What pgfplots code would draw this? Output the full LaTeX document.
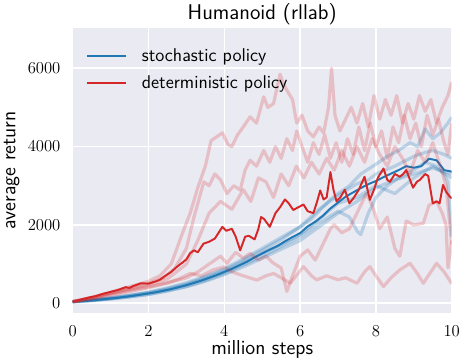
\documentclass[border=0pt]{standalone}
\usepackage{pgfplots}
\pgfplotsset{compat=1.18}
\definecolor{bgc}{HTML}{EAEAF2}
\definecolor{tblue}{HTML}{1F77B4}
\definecolor{tred}{HTML}{D62728}
\begin{document}
\begin{tikzpicture}
\useasboundingbox (0,0) rectangle (332.4pt,259pt);
\begin{axis}[
  at={(52.3pt,33.8pt)}, anchor=south west,
  width=272.7pt, height=205.1pt, scale only axis,
  xmin=0, xmax=10, ymin=-250, ymax=7030,
  axis background/.style={fill=bgc},
  axis line style={draw=none},
  major tick length=0pt,
  grid=major, grid style={white, line width=1.1pt},
  xtick={0,2,4,6,8,10}, ytick={0,2000,4000,6000},
  scaled y ticks=false,
  yticklabel style={/pgf/number format/1000 sep={}, xshift=-5.3pt},
  xticklabel style={yshift=-5.7pt},
  tick label style={font=\fontsize{13.2}{15}\selectfont},
  title={Humanoid (rllab)},
  title style={font=\sffamily\fontsize{15.3}{18}\selectfont, yshift=-7.2pt},
  xlabel={million steps}, ylabel={average return},
  xlabel style={font=\sffamily\fontsize{14.5}{17}\selectfont, at={(axis description cs:0.5,0)}, anchor=base, yshift=-30.2pt},
  ylabel style={font=\sffamily\fontsize{14.5}{17}\selectfont, at={(axis description cs:-0.151,0.5)}, anchor=base},
  legend style={draw=none, fill=none, at={(axis description cs:0,1)}, anchor=north west,
    xshift=6.7pt, yshift=-10.6pt, font=\sffamily\fontsize{13.3}{16}\selectfont, row sep=5pt, column sep=8.5pt},
  legend cell align=left,
  legend image code/.code={\draw[#1] (0pt,0pt) -- (28pt,0pt);},
  every axis plot/.append style={line join=round},
]
% stochastic seeds
\addplot[forget plot, tblue, opacity=0.25, line width=2.3pt] coordinates {
(0,40)(0.5,80)(1,130)(1.5,195)(2,270)(2.5,370)(3,490)(3.5,660)(4,850)(4.5,1080)(5,1350)(5.5,1620)(6,1950)(6.3,2150)(6.5,2350)(6.8,2650)(7,2800)(7.3,3000)(7.6,3300)(8,3550)(8.3,3750)(8.6,3900)(8.9,4100)(9.1,4000)(9.3,4450)(9.5,4200)(9.7,4350)(9.9,4600)(10,4750)};
\addplot[forget plot, tblue, opacity=0.25, line width=2.3pt] coordinates {
(0,40)(0.5,70)(1,110)(1.5,165)(2,230)(2.5,320)(3,430)(3.5,580)(4,760)(4.5,980)(5,1200)(5.5,1450)(6,1700)(6.5,2050)(7,2350)(7.3,2200)(7.5,1850)(7.6,1750)(7.8,2300)(8,2700)(8.3,3000)(8.6,3200)(9,3400)(9.3,3600)(9.6,3500)(9.8,3300)(9.9,3100)(10,1700)};
\addplot[forget plot, tblue, opacity=0.25, line width=2.3pt] coordinates {
(0,40)(0.5,85)(1,140)(1.5,205)(2,280)(2.5,390)(3,520)(3.5,690)(4,880)(4.5,1130)(5,1400)(5.5,1680)(6,1950)(6.5,2400)(7,2750)(7.5,3050)(7.8,3150)(8,3300)(8.5,3500)(9,3750)(9.3,3850)(9.5,3900)(9.8,3800)(10,3700)};
\addplot[forget plot, tblue, opacity=0.25, line width=2.3pt] coordinates {
(0,30)(0.5,65)(1,110)(1.5,160)(2,220)(2.5,310)(3,420)(3.5,560)(4,730)(4.5,930)(5,1150)(5.5,1380)(6,1600)(6.5,1950)(7,2300)(7.5,2600)(8,2950)(8.5,3150)(9,3300)(9.5,3450)(10,3300)};
\addplot[forget plot, tblue, opacity=0.25, line width=2.3pt] coordinates {
(0,40)(0.5,75)(1,120)(1.5,185)(2,260)(2.5,350)(3,470)(3.5,620)(4,800)(4.5,1030)(5,1280)(5.5,1500)(6,1750)(6.5,2150)(7,2550)(7.5,2700)(8,3000)(8.5,2800)(9,3200)(9.5,3500)(10,3200)};
% stochastic mean
\addplot[tblue, line width=1.4pt] coordinates {
(0,40)(0.2,50)(0.4,62)(0.6,80)(0.8,100)(1,120)(1.2,140)(1.4,165)(1.6,190)(1.8,220)(2,250)(2.2,280)(2.4,320)(2.6,360)(2.8,410)(3,460)(3.2,520)(3.4,580)(3.6,650)(3.8,720)(4,800)(4.2,880)(4.4,970)(4.6,1060)(4.8,1170)(5,1270)(5.2,1370)(5.4,1460)(5.6,1580)(5.8,1690)(6,1790)(6.2,1960)(6.4,2080)(6.6,2230)(6.8,2420)(7,2570)(7.2,2720)(7.4,2830)(7.6,2940)(7.8,3040)(8,3120)(8.2,3220)(8.4,3310)(8.6,3400)(8.8,3500)(9,3460)(9.2,3500)(9.4,3690)(9.6,3650)(9.8,3400)(10,3360)};
\addlegendentry{stochastic policy}
% deterministic seeds
\addplot[forget plot, tred, opacity=0.22, line width=2.3pt] coordinates {
(0,40)(0.5,150)(1,280)(1.5,420)(2,560)(2.3,700)(2.6,1000)(2.9,1800)(3.1,2300)(3.3,2950)(3.5,3500)(3.65,4150)(3.8,4250)(3.95,4350)(4.1,4050)(4.2,4000)(4.35,4300)(4.5,4500)(4.68,4760)(4.85,4600)(5.04,5270)(5.15,5000)(5.3,5100)(5.47,5850)(5.56,5600)(5.65,5440)(5.8,5200)(5.91,4600)(6.05,4800)(6.2,4400)(6.35,4250)(6.5,4500)(6.62,4350)(6.75,5000)(6.83,6000)(6.92,4800)(7.05,4400)(7.2,4700)(7.35,5000)(7.5,4600)(7.65,5100)(7.8,4500)(7.95,5300)(8.1,4700)(8.25,5200)(8.4,4800)(8.55,5300)(8.7,4600)(8.85,5100)(9,4700)(9.15,5300)(9.3,4900)(9.45,5200)(9.6,4600)(9.75,5000)(9.9,5300)(10,5650)};
\addplot[forget plot, tred, opacity=0.22, line width=2.3pt] coordinates {
(0,40)(0.5,140)(1,260)(1.5,380)(2,500)(2.4,650)(2.7,900)(3,1400)(3.2,2200)(3.46,3100)(3.6,3000)(3.75,3300)(3.9,3150)(4.07,2800)(4.25,3000)(4.42,2890)(4.55,3400)(4.68,3650)(4.85,3500)(5.04,3900)(5.2,3600)(5.35,4000)(5.5,3700)(5.65,4200)(5.8,3900)(5.91,4400)(6.05,4000)(6.2,3600)(6.35,4100)(6.5,3800)(6.65,4300)(6.8,3700)(6.95,4100)(7.1,3600)(7.25,4200)(7.4,3800)(7.55,4500)(7.7,3900)(7.85,4600)(8,4000)(8.15,4400)(8.3,3700)(8.45,4500)(8.6,4100)(8.75,4800)(8.9,4200)(9.05,4600)(9.2,4000)(9.35,4800)(9.5,4300)(9.65,4700)(9.8,4100)(9.9,3800)(10,4600)};
\addplot[forget plot, tred, opacity=0.22, line width=2.3pt] coordinates {
(0,40)(0.5,130)(1,250)(1.5,360)(2,470)(2.5,620)(3,1000)(3.3,1600)(3.6,2300)(3.9,2600)(4.2,2400)(4.5,2900)(4.7,2600)(4.9,3200)(5.1,3100)(5.3,2700)(5.5,3300)(5.7,3000)(5.9,3500)(6.1,3200)(6.3,3600)(6.5,3300)(6.7,3700)(6.9,3400)(7.1,3900)(7.3,3500)(7.5,4000)(7.7,3600)(7.9,4200)(8.1,3800)(8.3,3500)(8.5,4000)(8.7,3700)(8.9,3300)(9.1,3900)(9.3,3600)(9.5,4100)(9.7,3500)(9.85,3000)(10,1500)};
\addplot[forget plot, tred, opacity=0.22, line width=2.3pt] coordinates {
(0,40)(0.5,120)(1,230)(1.5,330)(2,420)(2.5,520)(3,650)(3.3,800)(3.6,1000)(3.9,1200)(4.07,1020)(4.3,1300)(4.5,1150)(4.68,1275)(4.9,1100)(5.1,1200)(5.3,1020)(5.5,900)(5.65,300)(5.8,700)(6,1200)(6.2,1360)(6.4,1100)(6.6,1500)(6.8,1900)(6.9,2000)(7.1,1800)(7.3,1900)(7.5,2300)(7.75,2800)(7.9,2500)(8.1,1900)(8.3,2200)(8.5,1400)(8.63,1200)(8.8,2100)(9,2000)(9.25,2040)(9.4,2500)(9.6,2600)(9.75,2300)(9.85,2000)(9.9,900)(10,1600)};
\addplot[forget plot, tred, opacity=0.22, line width=2.3pt] coordinates {
(0,40)(0.5,110)(1,200)(1.5,300)(2,400)(2.5,520)(2.8,620)(3.1,760)(3.4,700)(3.7,850)(4,930)(4.2,800)(4.5,700)(4.86,590)(5.1,700)(5.3,760)(5.5,650)(5.74,510)(6.09,935)(6.3,700)(6.44,595)(6.7,700)(7,600)(7.2,650)(7.5,510)(7.7,800)(7.84,935)(8,700)(8.2,425)(8.4,650)(8.63,850)(8.9,1020)(9.1,750)(9.25,510)(9.45,800)(9.6,1020)(9.8,800)(10,500)};
% deterministic mean
\addplot[tred, line width=1.4pt] coordinates {
(0,40)(0.2,90)(0.4,140)(0.6,180)(0.8,240)(1,290)(1.2,340)(1.4,410)(1.5,390)(1.6,440)(1.8,510)(2,500)(2.2,560)(2.3,600)(2.4,670)(2.6,800)(2.75,930)(2.9,1040)(3,1120)(3.1,1280)(3.2,1350)(3.3,1300)(3.45,1520)(3.6,1570)(3.75,1650)(3.85,1800)(3.95,1950)(4.05,1850)(4.2,1900)(4.3,1700)(4.42,1350)(4.55,1700)(4.65,1720)(4.8,1630)(4.9,1900)(4.97,2200)(5.05,2150)(5.2,1950)(5.35,2300)(5.47,2450)(5.6,2650)(5.7,2550)(5.82,2380)(5.95,2450)(6.09,2520)(6.2,2350)(6.35,2300)(6.45,2600)(6.53,2880)(6.62,2650)(6.7,2700)(6.8,3350)(6.88,2900)(6.96,2600)(7.06,2700)(7.18,2900)(7.3,2550)(7.42,2700)(7.55,2900)(7.7,3230)(7.84,2640)(7.95,2900)(8.05,3200)(8.2,3440)(8.3,3150)(8.37,3100)(8.5,3300)(8.63,3230)(8.72,3300)(8.8,3400)(8.9,3150)(8.98,2950)(9.08,3100)(9.16,3150)(9.3,3300)(9.38,3250)(9.5,2550)(9.6,2600)(9.68,2550)(9.77,3020)(9.85,2850)(9.95,2720)(10,2680)};
\addlegendentry{deterministic policy}
\end{axis}
\end{tikzpicture}
\end{document}
